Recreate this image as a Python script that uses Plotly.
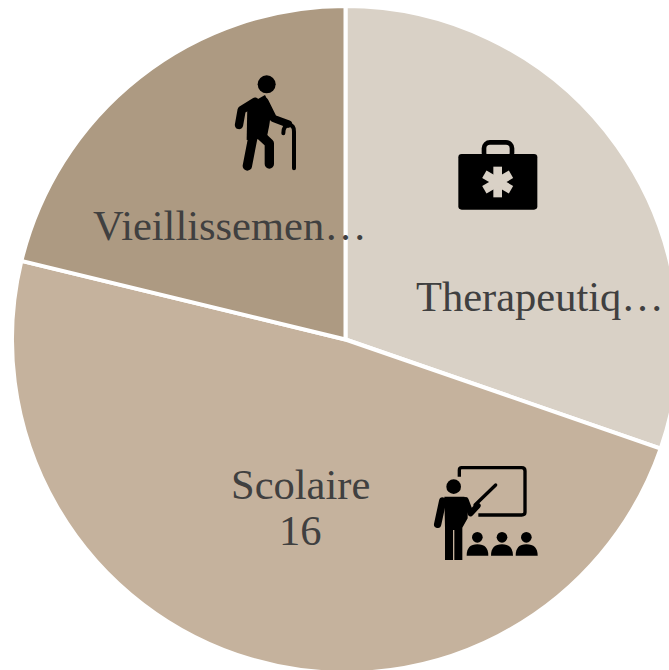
import base64
import plotly.graph_objects as go

categories = ["Therapeutique", "Scolaire", "Vieillissement"]
values = [10, 16, 7]
label_lines = ["Therapeutiq…", "Scolaire", "16", "Vieillissemen…"]
colors = ["#d9d1c6", "#c5b29d", "#ad9a82"]

W, H = 700, 690
CX, CY, R = 345.5, 339.5, 333.5
FONT = "Liberation Serif"
TEXT = "#404040"

fig = go.Figure(go.Pie(
    labels=categories, values=values, sort=False, direction="clockwise", rotation=0,
    marker=dict(colors=colors, line=dict(color="white", width=4)),
    textinfo="none", hoverinfo="label+value", showlegend=False,
    domain=dict(x=[(CX - R) / W, (CX + R) / W], y=[1 - (CY + R) / H, 1 - (CY - R) / H]),
))

label_pos = [(540, 296), (300, 484), (300, 530), (230, 225)]
for txt, (px, py) in zip(label_lines, label_pos):
    fig.add_annotation(text=txt, x=px / W, y=1 - py / H, xref="paper", yref="paper",
                       showarrow=False, xanchor="center", yanchor="middle",
                       font=dict(family=FONT, size=42.5, color=TEXT))

WALKER = """
<circle cx="140" cy="73" r="27"/>
<polygon points="82,135 135,105 155,145 148,195 140,235 80,240"/>
<g fill="none" stroke="#000" stroke-linecap="round" stroke-linejoin="round">
<polyline stroke-width="25" points="105,125 65,150 57,195"/>
<polyline stroke-width="22" points="135,125 160,175 205,192"/>
<polyline stroke-width="28" points="100,225 82,318"/>
<polyline stroke-width="28" points="118,222 148,250 148,312"/>
<path stroke-width="12" d="M190,220 Q190,195 208,195 Q222,195 222,215 L222,325"/>
</g>"""

CASE = """
<rect x="40" y="72" width="237" height="167" rx="10"/>
<rect x="117" y="37" width="84" height="50" rx="18" fill="none" stroke="#000" stroke-width="14"/>
<g stroke="#d9d1c6" stroke-width="26">
<line x1="158" y1="110" x2="158" y2="202"/>
<line x1="118" y1="133" x2="198" y2="179"/>
<line x1="118" y1="179" x2="198" y2="133"/>
</g>"""

TEACHER = """
<path d="M103,65 L103,45 Q103,38 110,38 L290,38 Q300,38 300,48 L300,172 Q300,180 290,180 L160,180"
 fill="none" stroke="#000" stroke-width="10"/>
<circle cx="86" cy="95" r="22"/>
<path d="M58,125 L118,125 L128,135 L128,190 L112,218 L112,315 L88,315 L88,225 L84,225 L84,315 L60,315 L60,218 Z"/>
<g fill="none" stroke="#000" stroke-linecap="round" stroke-linejoin="round">
<line stroke-width="22" x1="53" y1="138" x2="38" y2="208"/>
<polyline stroke-width="18" points="122,135 137,175 158,152"/>
<line stroke-width="10" x1="150" y1="150" x2="212" y2="90"/>
</g>
<circle cx="157" cy="247" r="16"/><circle cx="231" cy="247" r="16"/><circle cx="304" cy="247" r="16"/>
<path d="M125,302 Q125,268 157,268 Q190,268 190,302 Z"/>
<path d="M198,302 Q198,268 231,268 Q264,268 264,302 Z"/>
<path d="M272,302 Q272,268 304,268 Q338,268 338,302 Z"/>"""

icons = [(WALKER, 220, 60, 90, 120), (CASE, 445, 130, 105, 90), (TEACHER, 425, 455, 125, 115)]
for body, x, y, w, h in icons:
    svg = (f'<svg xmlns="http://www.w3.org/2000/svg" width="{w}" height="{h}" '
           f'viewBox="0 0 {w*3} {h*3}">{body}</svg>')
    uri = "data:image/svg+xml;base64," + base64.b64encode(svg.encode()).decode()
    fig.add_layout_image(source=uri, xref="paper", yref="paper", x=x / W, y=1 - y / H,
                         sizex=w / W, sizey=h / H, xanchor="left", yanchor="top",
                         sizing="stretch", layer="above")

fig.update_layout(width=W, height=H, margin=dict(l=0, r=0, t=0, b=0),
                  paper_bgcolor="white", plot_bgcolor="white")
fig.write_html("out.html", config={"displayModeBar": False},
               post_script="document.documentElement.style.overflow='hidden';"
                           "document.body.style.overflow='hidden';document.body.style.margin='0';")
